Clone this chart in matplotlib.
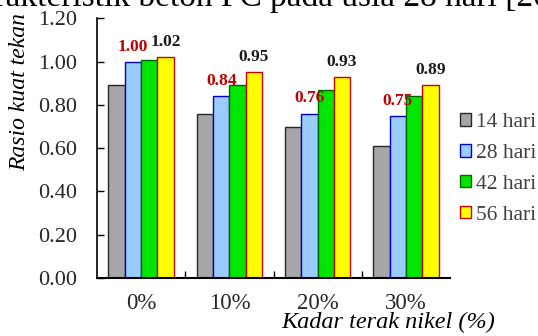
import numpy as np
import matplotlib.pyplot as plt
from matplotlib.patches import Rectangle

plt.rcParams['font.family'] = ['Liberation Serif', 'DejaVu Serif']

# Nickel slag content and strength ratio per curing age
kadar = ['0%', '10%', '20%', '30%']
umur = ['14 hari', '28 hari', '42 hari', '56 hari']
rasio_14 = [0.89, 0.76, 0.70, 0.61]
rasio_28 = [1.00, 0.84, 0.76, 0.75]
rasio_42 = [1.01, 0.89, 0.87, 0.84]
rasio_56 = [1.02, 0.95, 0.93, 0.89]

series = [rasio_14, rasio_28, rasio_42, rasio_56]
faces = ['#A6A6A6', '#99CCFF', '#00E600', '#FFFF00']
edges = ['#262626', '#0000CC', '#006600', '#CC0000']

fig = plt.figure(figsize=(5.38, 3.36), dpi=100)
ax = fig.add_axes([97 / 538, 1 - 278 / 336, 353 / 538, 259.6 / 336])

x = np.arange(len(kadar))
w = 0.185
for i, (vals, fc, ec) in enumerate(zip(series, faces, edges)):
    ax.bar(x + (i - 1.5) * w, vals, w, color=fc, edgecolor=ec, linewidth=1.0)

# value labels: 28-day in red, 56-day in black
for xi, v in zip(x, rasio_28):
    ax.annotate(f'{v:.2f}', (xi - 0.5 * w, v), xytext=(0, 8), textcoords='offset points',
                ha='center', va='baseline', fontsize=12.5, fontweight='bold', color='#C00000')
for xi, v in zip(x, rasio_56):
    ax.annotate(f'{v:.2f}', (xi + 1.5 * w, v), xytext=(0, 8), textcoords='offset points',
                ha='center', va='baseline', fontsize=12.5, fontweight='bold', color='#1a1a1a')

ax.set_xlim(-0.5, 3.5)
ax.set_ylim(0, 1.2)
ax.set_yticks(np.arange(0, 1.21, 0.2))
ax.set_yticklabels([f'{t:.2f}' for t in np.arange(0, 1.21, 0.2)])
ax.set_xticks([0.5, 1.5, 2.5])
ax.set_xticklabels([])
ax.tick_params(axis='x', direction='in', length=5, width=1, color='black')
ax.tick_params(axis='y', direction='in', length=5, width=1, labelsize=16,
               labelcolor='#262626', pad=14)
for xi, lab in zip(x, kadar):
    ax.text(xi, -0.12, lab, ha='center', va='center', fontsize=16.5, color='#262626',
            transform=ax.transData)
ax.spines['top'].set_visible(False)
ax.spines['right'].set_visible(False)
ax.spines['left'].set_linewidth(1.2)
ax.spines['bottom'].set_linewidth(1.5)

fig.text(20 / 538, 1 - 92 / 336, 'Rasio kuat tekan', rotation=90, ha='center', va='center',
         fontsize=17, style='italic', color='black')
fig.text(388 / 538, 1 - 322 / 336, 'Kadar terak nikel (%)', ha='center', va='center',
         fontsize=17.5, style='italic', color='black')

# caption line from the page above
fig.text(262 / 538, 1 - 6 / 336, 'karakteristik beton FC', ha='right', va='baseline',
         fontsize=24, color='black')
fig.text(270 / 538, 1 - 6 / 336, 'pada usia 28 hari [20,21]', ha='left', va='baseline',
         fontsize=24, color='black')

handles = [Rectangle((0, 0), 1, 1, facecolor=fc, edgecolor=ec, linewidth=1.0)
           for fc, ec in zip(faces, edges)]
leg = fig.legend(handles, umur, loc='center left', bbox_to_anchor=(460 / 538, 1 - 169 / 336),
                 frameon=False, fontsize=15.5, handlelength=0.5, handleheight=0.5,
                 handletextpad=0.25, labelspacing=0.55, borderpad=0, borderaxespad=0)
for t in leg.get_texts():
    t.set_color('#404040')

fig.savefig('out.png', dpi=100)
